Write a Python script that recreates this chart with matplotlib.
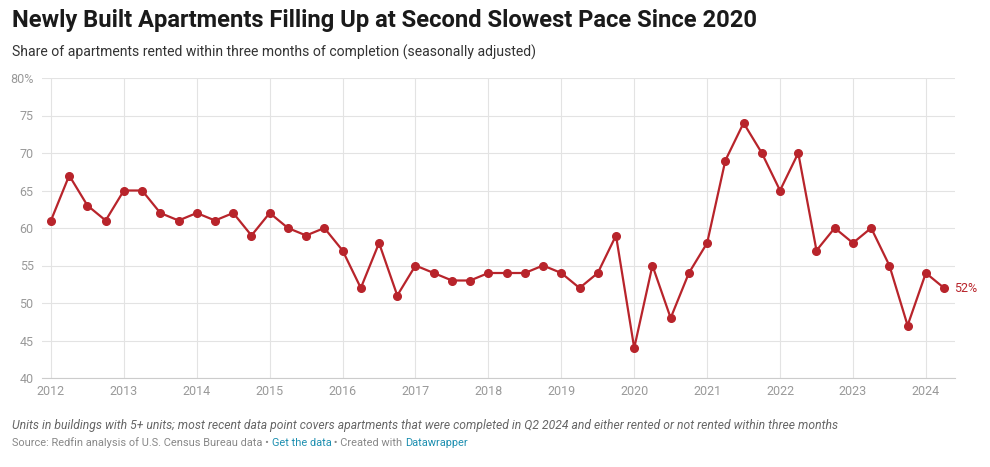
import matplotlib.pyplot as plt
import numpy as np

plt.rcParams['font.family'] = ['Roboto', 'DejaVu Sans']

years = list(range(2012, 2025))
# quarterly share of new apartments rented within three months, Q1 2012 - Q2 2024
share = [61, 67, 63, 61,
         65, 65, 62, 61,
         62, 61, 62, 59,
         62, 60, 59, 60,
         57, 52, 58, 51,
         55, 54, 53, 53,
         54, 54, 54, 55,
         54, 52, 54, 59,
         44, 55, 48, 54,
         58, 69, 74, 70,
         65, 70, 57, 60,
         58, 60, 55, 47,
         54, 52]
y_ticks = [40, 45, 50, 55, 60, 65, 70, 75, 80]

x = 2012 + np.arange(len(share)) / 4.0
red = '#b8242b'

fig = plt.figure(figsize=(9.9, 4.67), dpi=100)
ax = fig.add_axes([42 / 990, 1 - 378 / 467, (955 - 42) / 990, 300 / 467])

ax.plot(x, share, color=red, lw=1.6, marker='o', ms=5.5, zorder=3)
ax.annotate('%d%%' % share[-1], (x[-1], share[-1]), xytext=(7, 0),
            textcoords='offset points', va='center', ha='left',
            color=red, fontsize=9)

ax.set_xlim(2012 - 0.123, 2024.4)
ax.set_ylim(40, 80)
ax.set_xticks(years)
ax.set_xticklabels([str(y) for y in years])
ax.set_yticks(y_ticks)
ax.set_yticklabels([str(v) + ('%' if v == 80 else '') for v in y_ticks])
ax.grid(True, color='#e3e3e3', lw=0.8)
ax.set_axisbelow(True)
for s in ['top', 'right', 'left']:
    ax.spines[s].set_visible(False)
ax.spines['bottom'].set_color('#cccccc')
ax.tick_params(length=0, colors='#999999', labelsize=9)
ax.tick_params(axis='y', pad=6)
ax.tick_params(axis='x', pad=5)

fig.text(12 / 990, 1 - 20 / 467, 'Newly Built Apartments Filling Up at Second Slowest Pace Since 2020',
         fontsize=17.1, fontweight='bold', color='#1a1a1a', va='center')
fig.text(12 / 990, 1 - 52 / 467, 'Share of apartments rented within three months of completion (seasonally adjusted)',
         fontsize=10.1, color='#333333', va='center')
fig.text(12 / 990, 1 - 425 / 467,
         'Units in buildings with 5+ units; most recent data point covers apartments that were completed in Q2 2024 and either rented or not rented within three months',
         fontsize=8.75, color='#666666', style='italic', va='center')

# source line with coloured links
parts = [('Source: Redfin analysis of U.S. Census Bureau data \u2022 ', '#888888'),
         ('Get the data', '#1d8fb0'),
         (' \u2022 Created with ', '#888888'),
         ('Datawrapper', '#1d8fb0')]
fig.canvas.draw()
r = fig.canvas.get_renderer()
xpos = 12 / 990
for txt, col in parts:
    t = fig.text(xpos, 1 - 443 / 467, txt, fontsize=7.9, color=col, va='center')
    bb = t.get_window_extent(renderer=r)
    xpos += bb.width / fig.bbox.width

fig.savefig('out.png', dpi=100)
